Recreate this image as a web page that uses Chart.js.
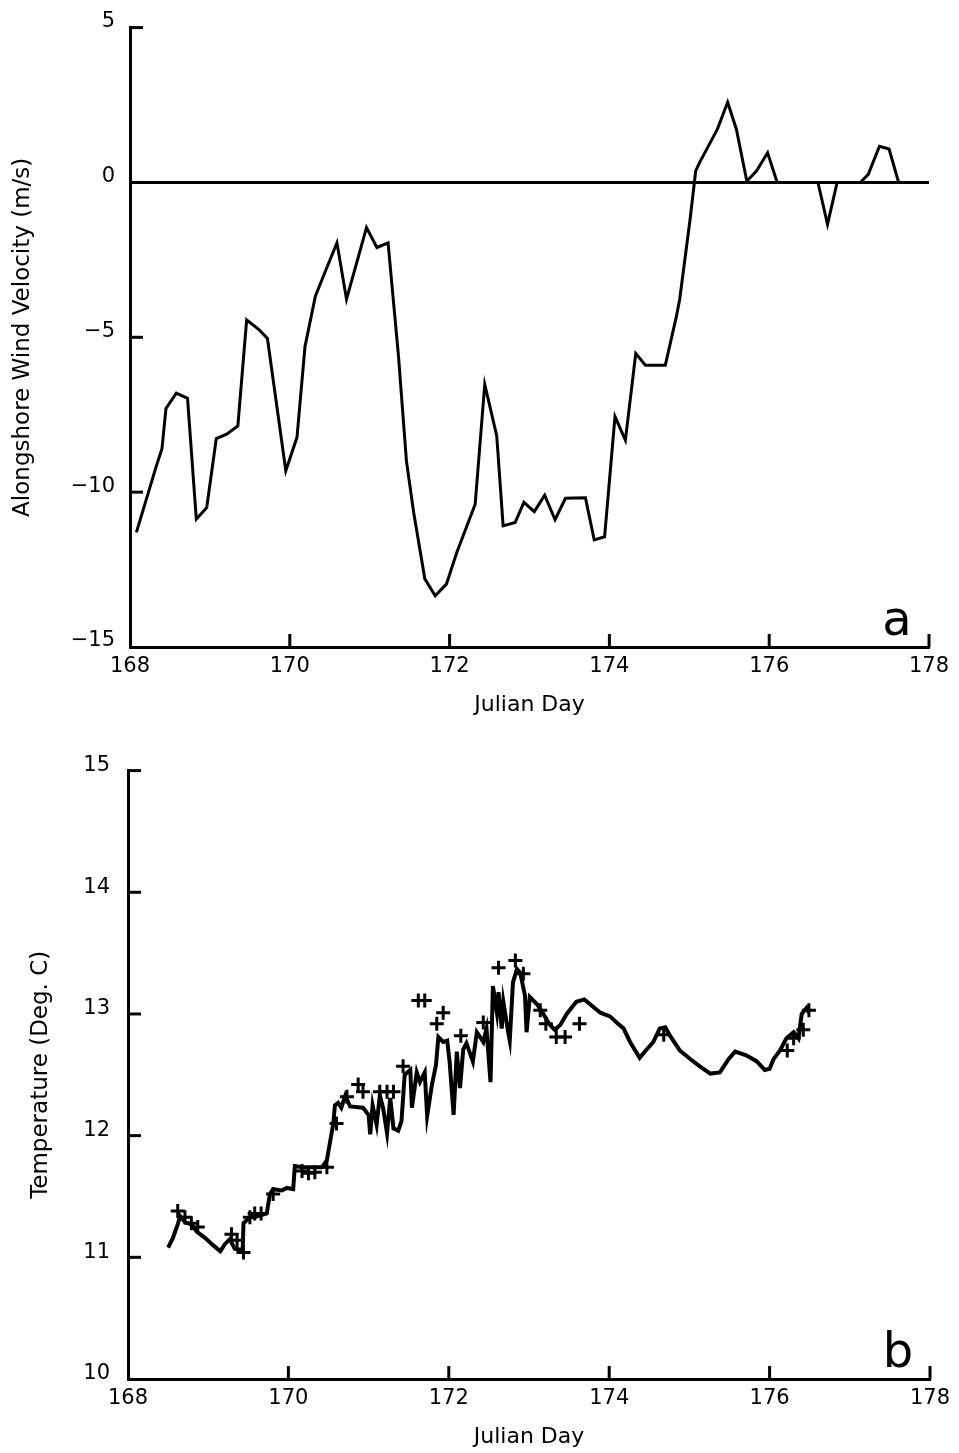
<!DOCTYPE html>
<html>
<head>
<meta charset="utf-8">
<script src="https://cdn.jsdelivr.net/npm/chart.js@4"></script>
<style>
  body { margin: 0; background: #fff; }
  canvas { position: absolute; left: 0; }
  #windChart { top: 0; }
  #tempChart { top: 740px; }
</style>
</head>
<body>
<canvas id="windChart" width="959" height="740"></canvas>
<canvas id="tempChart" width="959" height="713"></canvas>
<script>
// alongshore wind, m/s
const windDay = [168.08, 168.33, 168.40, 168.45, 168.58, 168.72, 168.83, 168.96, 169.08, 169.21, 169.35, 169.46, 169.61, 169.72, 169.95,
  170.09, 170.19, 170.32, 170.44, 170.59, 170.71, 170.96, 171.09, 171.23, 171.36, 171.46, 171.55, 171.69, 171.82, 171.96,
  172.09, 172.32, 172.44, 172.59, 172.67, 172.82, 172.93, 173.06, 173.19, 173.32, 173.45, 173.70, 173.81, 173.94,
  174.07, 174.20, 174.33, 174.45, 174.70, 174.84, 174.88, 175.01, 175.08, 175.13, 175.35, 175.48, 175.59, 175.72, 175.84, 175.98,
  176.10, 176.61, 176.73, 176.85, 177.14, 177.24, 177.38, 177.50, 177.62]
const windSpeed = [-11.3, -9.15, -8.6, -7.3, -6.8, -6.97, -10.87, -10.5, -8.27, -8.13, -7.86, -4.44, -4.74, -5.04, -9.31,
  -8.23, -5.3, -3.67, -2.9, -1.95, -3.77, -1.46, -2.1, -1.95, -5.6, -9.0, -10.65, -12.8, -13.35, -12.97,
  -11.95, -10.39, -6.52, -8.18, -11.09, -10.98, -10.33, -10.63, -10.1, -10.89, -10.2, -10.18, -11.54, -11.44,
  -7.56, -8.32, -5.52, -5.9, -5.9, -4.31, -3.77, -1.19, 0.37, 0.65, 1.71, 2.59, 1.71, 0.04, 0.37, 0.96,
  0, 0, -1.35, 0, 0, 0.26, 1.17, 1.08, 0]

// moored temperature record, deg C
const tempDay = [168.50, 168.56, 168.62, 168.65, 168.71, 168.79, 168.86, 168.96, 169.06, 169.15, 169.21, 169.27, 169.33, 169.43, 169.44,
  169.52, 169.62, 169.73, 169.77, 169.81, 169.92, 169.98, 170.06, 170.08, 170.17, 170.29, 170.42, 170.48, 170.52, 170.56,
  170.58, 170.62, 170.66, 170.71, 170.77, 170.93, 171.00, 171.02, 171.05, 171.10, 171.14, 171.18, 171.23, 171.27, 171.31,
  171.37, 171.41, 171.45, 171.52, 171.54, 171.60, 171.64, 171.70, 171.73, 171.79, 171.84, 171.87, 171.93, 171.98, 172.01,
  172.06, 172.10, 172.14, 172.18, 172.22, 172.30, 172.35, 172.43, 172.47, 172.52, 172.55, 172.60, 172.62, 172.66, 172.68,
  172.74, 172.76, 172.80, 172.85, 172.89, 172.95, 172.97, 173.01, 173.10, 173.18, 173.25, 173.32, 173.39, 173.47, 173.59,
  173.69, 173.78, 173.89, 174.01, 174.11, 174.18, 174.26, 174.38, 174.47, 174.55, 174.63, 174.70, 174.76, 174.88, 175.01,
  175.13, 175.26, 175.38, 175.49, 175.57, 175.71, 175.84, 175.94, 176.00, 176.05, 176.13, 176.21, 176.30, 176.36, 176.40,
  176.46, 176.49]
const tempVal = [11.08, 11.16, 11.27, 11.34, 11.29, 11.27, 11.21, 11.16, 11.10, 11.05, 11.11, 11.15, 11.07, 11.06, 11.28,
  11.33, 11.34, 11.36, 11.52, 11.56, 11.55, 11.57, 11.56, 11.75, 11.74, 11.74, 11.74, 11.80, 11.95, 12.10,
  12.25, 12.27, 12.23, 12.33, 12.24, 12.23, 12.17, 12.01, 12.25, 12.09, 12.33, 12.23, 12.02, 12.31, 12.06,
  12.04, 12.12, 12.50, 12.54, 12.23, 12.52, 12.44, 12.52, 12.16, 12.42, 12.58, 12.81, 12.77, 12.78, 12.61,
  12.17, 12.69, 12.39, 12.71, 12.76, 12.61, 12.85, 12.77, 12.88, 12.44, 13.23, 13.01, 13.18, 12.88, 13.10,
  12.85, 12.78, 13.26, 13.37, 13.34, 13.15, 12.85, 13.14, 13.08, 13.00, 12.92, 12.87, 12.91, 13.00, 13.10,
  13.12, 13.07, 13.01, 12.98, 12.92, 12.88, 12.77, 12.64, 12.71, 12.77, 12.88, 12.89, 12.82, 12.70, 12.63,
  12.57, 12.51, 12.52, 12.63, 12.69, 12.66, 12.61, 12.54, 12.55, 12.63, 12.70, 12.80, 12.85, 12.80, 13.00,
  13.05, 13.01]

// discrete samples plotted as +
const sampleDay = [168.62, 168.71, 168.79, 168.87, 169.29, 169.36, 169.44, 169.52, 169.58, 169.66, 169.81, 170.17, 170.25, 170.33,
  170.48, 170.60, 170.73, 170.87, 170.93, 171.14, 171.23, 171.31, 171.43, 171.62, 171.70, 171.85, 171.93, 172.15,
  172.43, 172.62, 172.83, 172.93, 173.14, 173.21, 173.34, 173.45, 173.63, 174.68, 176.22, 176.30, 176.42, 176.49]
const sampleVal = [11.38, 11.33, 11.28, 11.25, 11.19, 11.14, 11.04, 11.33, 11.36, 11.36, 11.52, 11.71, 11.69, 11.70,
  11.74, 12.10, 12.32, 12.42, 12.36, 12.36, 12.36, 12.36, 12.57, 13.11, 13.11, 12.92, 13.01, 12.82,
  12.93, 13.38, 13.44, 13.33, 13.03, 12.92, 12.81, 12.81, 12.92, 12.83, 12.70, 12.80, 12.87, 13.03]

const dayTicks = [168, 170, 172, 174, 176, 178]

const FONT = 'DejaVu Sans'
const pairs = (xs, ys) => xs.map((x, i) => ({ x, y: ys[i] }))
const minus = v => v < 0 ? '\u2212' + Math.abs(v) : '' + v

// tick marks point into the plot, corner tick left out
const innerTicks = {
  id: 'innerTicks',
  afterDatasetsDraw(chart) {
    const { ctx, chartArea: a, scales: { x, y } } = chart
    ctx.save()
    ctx.strokeStyle = '#000'
    ctx.lineWidth = 3
    x.ticks.forEach(t => {
      if (t.value === x.min) return
      const px = x.getPixelForValue(t.value)
      ctx.beginPath(); ctx.moveTo(px, a.bottom); ctx.lineTo(px, a.bottom - 13); ctx.stroke()
    })
    y.ticks.forEach(t => {
      if (t.value === y.min) return
      const py = y.getPixelForValue(t.value)
      ctx.beginPath(); ctx.moveTo(a.left, py); ctx.lineTo(a.left + 13, py); ctx.stroke()
    })
    ctx.restore()
  }
}

// panel letter in the lower right corner
const panelTag = {
  id: 'panelTag',
  afterDraw(chart, args, opts) {
    const { ctx, chartArea: a } = chart
    ctx.save()
    ctx.font = '48px ' + FONT
    ctx.fillStyle = '#000'
    ctx.textAlign = 'center'
    ctx.textBaseline = 'alphabetic'
    ctx.fillText(opts.text, a.right - 32, a.bottom - 12)
    ctx.restore()
  }
}

const xAxis = (height) => ({
  type: 'linear',
  min: 168,
  max: 178,
  afterBuildTicks: s => { s.ticks = dayTicks.map(v => ({ value: v })) },
  afterFit: s => { s.height = height },
  grid: { display: false, drawTicks: false },
  border: { display: true, color: '#000', width: 3 },
  ticks: { color: '#000', font: { family: FONT, size: 21 }, padding: 7, maxRotation: 0 },
  title: { display: true, text: 'Julian Day', color: '#000', font: { family: FONT, size: 22 }, padding: 0 }
})

const lineSet = (data, width) => ({
  data,
  showLine: true,
  borderColor: '#000',
  borderWidth: width,
  pointRadius: 0,
  tension: 0,
  borderJoinStyle: 'miter'
})

new Chart('windChart', {
  type: 'scatter',
  data: { datasets: [lineSet(pairs(windDay, windSpeed), 3)] },
  options: {
    responsive: false,
    animation: false,
    devicePixelRatio: 1,
    layout: { padding: { left: 0, top: 27, right: 30, bottom: 22 } },
    plugins: { legend: { display: false }, tooltip: { enabled: false }, panelTag: { text: 'a' } },
    scales: {
      x: xAxis(71),
      y: {
        min: -15,
        max: 5,
        afterFit: s => { s.width = 130 },
        grid: {
          drawTicks: false,
          lineWidth: 3,
          color: c => c.tick && c.tick.value === 0 ? '#000' : 'rgba(0,0,0,0)'
        },
        border: { display: true, color: '#000', width: 3 },
        ticks: { stepSize: 5, color: '#000', font: { family: FONT, size: 21 }, padding: 15, labelOffset: -6, callback: minus },
        title: { display: true, text: 'Alongshore Wind Velocity (m/s)', color: '#000', font: { family: FONT, size: 23 }, padding: { top: 9 } }
      }
    }
  },
  plugins: [innerTicks, panelTag]
})

new Chart('tempChart', {
  type: 'scatter',
  data: {
    datasets: [
      lineSet(pairs(tempDay, tempVal), 4),
      {
        data: pairs(sampleDay, sampleVal),
        pointStyle: 'cross',
        pointRadius: 7,
        borderColor: '#000',
        borderWidth: 3,
        showLine: false
      }
    ]
  },
  options: {
    responsive: false,
    animation: false,
    devicePixelRatio: 1,
    layout: { padding: { left: 0, top: 26, right: 29, bottom: 3 } },
    plugins: { legend: { display: false }, tooltip: { enabled: false }, panelTag: { text: 'b' } },
    scales: {
      x: xAxis(71),
      y: {
        min: 10,
        max: 15,
        afterFit: s => { s.width = 128 },
        grid: { display: false, drawTicks: false },
        border: { display: true, color: '#000', width: 3 },
        ticks: { stepSize: 1, color: '#000', font: { family: FONT, size: 21 }, padding: 18, labelOffset: -5 },
        title: { display: true, text: 'Temperature (Deg. C)', color: '#000', font: { family: FONT, size: 23 }, padding: { top: 27 } }
      }
    }
  },
  plugins: [innerTicks, panelTag]
})
</script>
</body>
</html>
